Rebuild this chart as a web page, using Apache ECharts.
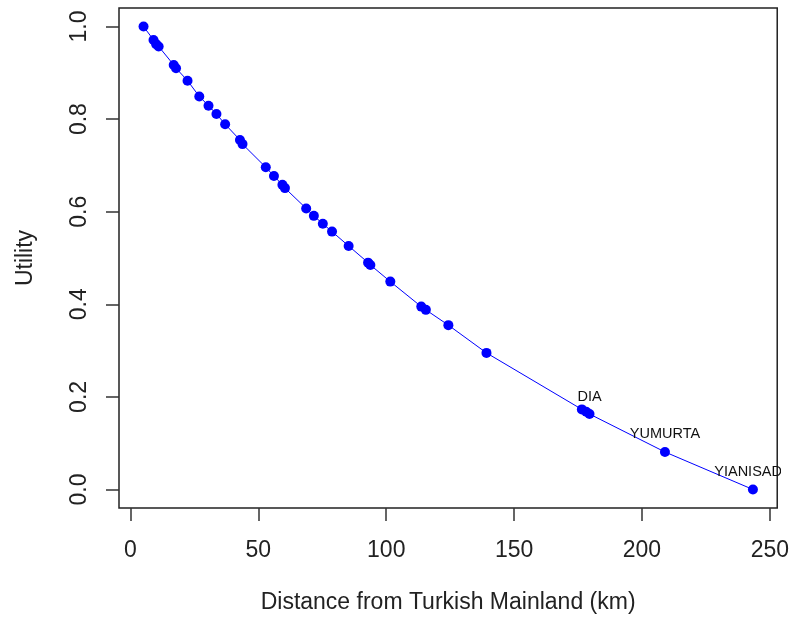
<!DOCTYPE html>
<html>
<head>
<meta charset="utf-8">
<script src="https://cdn.jsdelivr.net/npm/echarts@6/dist/echarts.min.js"></script>
<style>
html,body{margin:0;padding:0;background:#fff;}
#chart{width:792px;height:619px;}
</style>
</head>
<body>
<div id="chart"></div>
<script>
// Distance from Turkish mainland (km)
const distance = [5.1, 9.0, 10.0, 11.0, 16.9, 17.8, 22.3, 26.9, 30.5, 33.6, 37.0, 42.8, 43.8, 52.9, 56.1, 59.4, 60.4, 68.7, 71.7, 75.2, 78.8, 85.3, 92.9, 93.8, 101.6, 113.7, 115.5, 124.3, 139.2, 176.5, 178.2, 179.5, 209.0, 243.4];
// Utility
const utility = [1.0, 0.971, 0.962, 0.957, 0.917, 0.910, 0.883, 0.849, 0.829, 0.811, 0.789, 0.755, 0.746, 0.696, 0.677, 0.658, 0.651, 0.607, 0.591, 0.574, 0.557, 0.526, 0.490, 0.485, 0.449, 0.395, 0.388, 0.355, 0.295, 0.173, 0.168, 0.163, 0.081, 0.0];
// Labelled islands
const labelNames = ['DIA', 'YUMURTA', 'YIANISADA'];
const labelDistance = [179.5, 209.0, 243.4];
// Tick labels
const xTicks = [0, 50, 100, 150, 200, 250];
const yTicks = [0.0, 0.2, 0.4, 0.6, 0.8, 1.0];

const FONT = '"Liberation Sans", Arial, sans-serif';
const points = distance.map((d, i) => {
  const k = labelDistance.indexOf(d);
  const item = { value: [d, utility[i]] };
  if (k >= 0) {
    item.label = { show: true, formatter: labelNames[k] };
  }
  return item;
});
const linePts = distance.map((d, i) => [d, utility[i]]);

const chart = echarts.init(document.getElementById('chart'), null, { renderer: 'canvas' });
chart.setOption({
  animation: false,
  backgroundColor: '#ffffff',
  grid: {
    left: 119, right: 12, top: 8, bottom: 110,
    show: true, borderColor: '#222', borderWidth: 1.5, backgroundColor: 'transparent'
  },
  xAxis: {
    type: 'value', min: -4.5, max: 252.9,
    name: 'Distance from Turkish Mainland (km)',
    nameLocation: 'middle', nameGap: 83,
    nameTextStyle: { fontFamily: FONT, fontSize: 23, color: '#222' },
    axisLine: { show: false, onZero: false },
    splitLine: { show: false },
    axisTick: { show: true, length: 13, lineStyle: { color: '#333', width: 1.5 }, customValues: xTicks },
    axisLabel: { show: true, margin: 31, fontFamily: FONT, fontSize: 23, color: '#222', customValues: xTicks, formatter: v => String(v) }
  },
  yAxis: {
    type: 'value', min: -0.04, max: 1.04,
    name: 'Utility',
    nameLocation: 'middle', nameGap: 82, nameRotate: 90,
    nameTextStyle: { fontFamily: FONT, fontSize: 23, color: '#222' },
    axisLine: { show: false, onZero: false },
    splitLine: { show: false },
    axisTick: { show: true, length: 13, lineStyle: { color: '#333', width: 1.5 }, customValues: yTicks },
    axisLabel: { show: true, margin: 28, rotate: 90, fontFamily: FONT, fontSize: 23, color: '#222', customValues: yTicks, formatter: v => Number(v).toFixed(1) }
  },
  series: [
    {
      type: 'line', data: linePts, showSymbol: false, symbol: 'none',
      lineStyle: { color: '#0000ff', width: 1 }, silent: true, z: 2
    },
    {
      type: 'scatter', data: points, symbol: 'circle', symbolSize: 10,
      itemStyle: { color: '#0000ff', opacity: 1 },
      label: { show: false, position: 'top', distance: 5, fontFamily: FONT, fontSize: 14.5, color: '#111' },
      z: 3
    }
  ],
  graphic: [
    { type: 'rect', shape: { x: 781, y: 440, width: 11, height: 60 }, style: { fill: '#ffffff' }, z: 100 }
  ]
});
</script>
</body>
</html>
